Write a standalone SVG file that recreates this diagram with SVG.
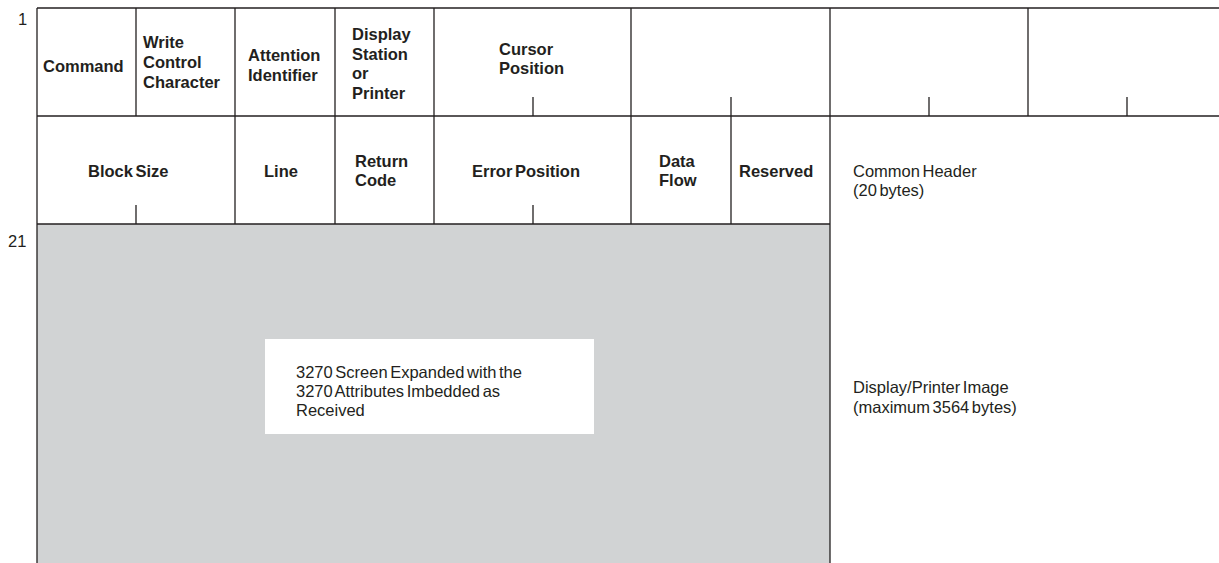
<svg xmlns="http://www.w3.org/2000/svg" width="1219" height="563" viewBox="0 0 1219 563">
<style>
.ln{stroke:#231f20;stroke-width:1.3;fill:none}
.b{font-family:"Liberation Sans",Arial,sans-serif;font-weight:bold;font-size:16.5px;fill:#231f20;word-spacing:-2px}
.n{font-family:"Liberation Sans",Arial,sans-serif;font-size:16.5px;fill:#231f20;word-spacing:-2px}
</style>
<rect width="1219" height="563" fill="#ffffff"/>
<g id="image-area">
<rect x="37" y="224" width="793" height="339" fill="#d1d3d4"/>
<rect x="265" y="339" width="329" height="95" fill="#ffffff"/>
<text class="n" x="296" y="378">3270 Screen Expanded with the</text>
<text class="n" x="296" y="397">3270 Attributes Imbedded as</text>
<text class="n" x="296" y="416">Received</text>
</g>
<g id="connectors">
<line class="ln" x1="37" y1="8" x2="1219" y2="8"/>
<line class="ln" x1="37" y1="116" x2="1219" y2="116"/>
<line class="ln" x1="37" y1="224" x2="830" y2="224"/>
<line class="ln" x1="37" y1="8" x2="37" y2="563"/>
<line class="ln" x1="830" y1="8" x2="830" y2="563"/>
<line class="ln" x1="136" y1="8" x2="136" y2="116"/>
<line class="ln" x1="235" y1="8" x2="235" y2="224"/>
<line class="ln" x1="335" y1="8" x2="335" y2="224"/>
<line class="ln" x1="434" y1="8" x2="434" y2="224"/>
<line class="ln" x1="631" y1="8" x2="631" y2="224"/>
<line class="ln" x1="731" y1="97" x2="731" y2="224"/>
<line class="ln" x1="1028" y1="8" x2="1028" y2="116"/>
<line class="ln" x1="533" y1="97" x2="533" y2="116"/>
<line class="ln" x1="929" y1="97" x2="929" y2="116"/>
<line class="ln" x1="1127" y1="97" x2="1127" y2="116"/>
<line class="ln" x1="136" y1="205" x2="136" y2="224"/>
<line class="ln" x1="533" y1="205" x2="533" y2="224"/>
</g>
<g id="row-labels">
<text class="n" x="18" y="25">1</text>
<text class="n" x="8" y="247">21</text>
</g>
<g id="command"><text class="b" x="43" y="72">Command</text></g>
<g id="wcc"><text class="b" x="143" y="48">Write</text><text class="b" x="143" y="68">Control</text><text class="b" x="143" y="88">Character</text></g>
<g id="aid"><text class="b" x="248" y="61">Attention</text><text class="b" x="248" y="81">Identifier</text></g>
<g id="dsp"><text class="b" x="352" y="40">Display</text><text class="b" x="352" y="60">Station</text><text class="b" x="352" y="79">or</text><text class="b" x="352" y="99">Printer</text></g>
<g id="cursor"><text class="b" x="499" y="55">Cursor</text><text class="b" x="499" y="74">Position</text></g>
<g id="blocksize"><text class="b" x="88" y="177">Block Size</text></g>
<g id="line"><text class="b" x="264" y="177">Line</text></g>
<g id="rc"><text class="b" x="355" y="167">Return</text><text class="b" x="355" y="186">Code</text></g>
<g id="errpos"><text class="b" x="472" y="177">Error Position</text></g>
<g id="dataflow"><text class="b" x="659" y="167">Data</text><text class="b" x="659" y="186">Flow</text></g>
<g id="reserved"><text class="b" x="739" y="177">Reserved</text></g>
<g id="header-note"><text class="n" x="853" y="177">Common Header</text><text class="n" x="853" y="196">(20 bytes)</text></g>
<g id="image-note"><text class="n" x="853" y="393">Display/Printer Image</text><text class="n" x="853" y="413">(maximum 3564 bytes)</text></g>
</svg>
